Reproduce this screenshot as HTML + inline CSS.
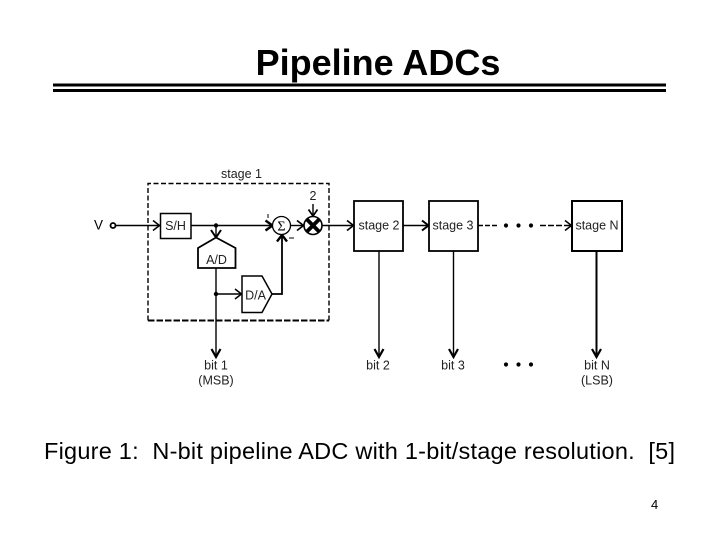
<!DOCTYPE html>
<html><head><meta charset="utf-8"><style>
html,body{margin:0;padding:0;background:#fff}
svg{display:block}
text{font-family:"Liberation Sans",sans-serif;fill:#000}
.d{font-size:12.5px;fill:#222}
</style></head><body>
<svg width="720" height="540" viewBox="0 0 720 540" xmlns="http://www.w3.org/2000/svg">
<text x="378" y="75" text-anchor="middle" font-size="36" font-weight="bold">Pipeline ADCs</text>
<rect x="53" y="83.500" width="613" height="3"/>
<rect x="53" y="89" width="613" height="3"/>

<text class="d" x="241.500" y="178" text-anchor="middle">stage 1</text>
<path d="M148 320.500V183.500H329V320.500" fill="none" stroke="#000" stroke-width="1.400" stroke-dasharray="5 2.500"/>
<path d="M148 320.500H329" stroke="#000" stroke-width="2" stroke-dasharray="6.500 2" fill="none"/>

<text x="94" y="229.500" font-size="13.500" fill="#222">V</text>
<circle cx="113" cy="225.500" r="2.500" fill="none" stroke="#000" stroke-width="1.800"/>
<g stroke="#000" fill="none" stroke-width="1.400">
<path d="M116 225.500H160"/><path d="M153 220.500L159.500 225.500L153 230.500" stroke-width="1.500"/>
<path d="M191 225.500H272"/><path d="M265.500 220.500L272.500 225.500L265.500 230.500" stroke-width="2.400"/>
<path d="M216 225.500V237"/><path d="M211 230L216 237.500L221 230" stroke-width="2"/>
<path d="M216 268V357"/>
<path d="M216 294H242"/><path d="M235 289L241.500 294L235 299" stroke-width="1.500"/>
<path d="M272 294H282V235.500" stroke-width="1.800"/><path d="M277 241.500L282 235L287 241.500" stroke-width="2.400"/>
<path d="M291 225.500H303"/><path d="M297 220.500L303.500 225.500L297 230.500" stroke-width="1.700"/>
<path d="M322.500 225.500H354"/><path d="M347 220.500L353.500 225.500L347 230.500" stroke-width="1.700"/>
<path d="M313 204V216"/><path d="M308.500 209.500L313 216L317.500 209.500" stroke-width="1.700"/>
<path d="M403 225.500H429"/><path d="M422 220.500L428.500 225.500L422 230.500" stroke-width="2"/>
<path d="M478 225.500H498" stroke-dasharray="5 2"/>
<path d="M540 225.500H571" stroke-dasharray="6 2"/><path d="M565 220.500L571.500 225.500L565 230.500" stroke-width="1.500"/>
<path d="M379 251V357"/><path d="M453.500 251V357"/>
<path d="M596.500 251V357" stroke-width="2"/>
<path d="M211.500 349L216 357L220.500 349M374.500 349L379 357L383.500 349M449 349L453.500 357L458 349M592 349L596.500 357L601 349" stroke-width="2.200"/>
</g>
<circle cx="216" cy="225.500" r="2.200"/>
<circle cx="216" cy="294" r="2.200"/>

<rect x="160.500" y="213.500" width="30.500" height="25" fill="#fff" stroke="#000" stroke-width="1.500"/>
<text class="d" x="175.500" y="230" text-anchor="middle">S/H</text>
<path d="M198 248L216 237.500L235.500 248V268H198Z" fill="#fff" stroke="#000" stroke-width="1.800"/>
<text class="d" x="216.500" y="264" text-anchor="middle">A/D</text>
<path d="M242 276H262L272 294L262 312.500H242Z" fill="#fff" stroke="#000" stroke-width="1.500"/>
<text class="d" x="255.500" y="299.500" text-anchor="middle">D/A</text>

<circle cx="281.500" cy="225.500" r="9" fill="#fff" stroke="#000" stroke-width="1.300"/>
<text x="281.500" y="230.500" text-anchor="middle" font-size="14" style="font-family:'Liberation Serif',serif" fill="#333">Σ</text>
<circle cx="313" cy="225.500" r="9" fill="#fff" stroke="#000" stroke-width="1.600"/>
<path d="M306.500 219L319.500 232M319.500 219L306.500 232" stroke="#000" stroke-width="3.800"/>
<path d="M268 214V218M289 238H294" stroke="#000" stroke-width="1"/>
<text class="d" x="313" y="200" text-anchor="middle">2</text>

<g fill="#fff" stroke="#000" stroke-width="1.800">
<rect x="354" y="201" width="49" height="50"/>
<rect x="429" y="201" width="49" height="50"/>
<rect x="572" y="201" width="50" height="50" stroke-width="2"/>
</g>
<text class="d" x="379" y="229.500" text-anchor="middle">stage 2</text>
<text class="d" x="453" y="229.500" text-anchor="middle">stage 3</text>
<text class="d" x="597" y="229.500" text-anchor="middle">stage N</text>

<g>
<circle cx="506" cy="225.500" r="2.100"/><circle cx="518.500" cy="225.500" r="2.100"/><circle cx="531" cy="225.500" r="2.100"/>
<circle cx="506" cy="364.500" r="2.100"/><circle cx="518.500" cy="364.500" r="2.100"/><circle cx="531" cy="364.500" r="2.100"/>
</g>

<text class="d" x="216" y="369.500" text-anchor="middle">bit 1</text>
<text class="d" x="216" y="384.500" text-anchor="middle">(MSB)</text>
<text class="d" x="378" y="369.500" text-anchor="middle">bit 2</text>
<text class="d" x="453" y="369.500" text-anchor="middle">bit 3</text>
<text class="d" x="597" y="369.500" text-anchor="middle">bit N</text>
<text class="d" x="597" y="384.500" text-anchor="middle">(LSB)</text>

<text x="44" y="459" font-size="23.500" textLength="631" xml:space="preserve">Figure 1:  N-bit pipeline ADC with 1-bit/stage resolution.  [5]</text>
<text x="651" y="509" font-size="13">4</text>
</svg>
</body></html>
